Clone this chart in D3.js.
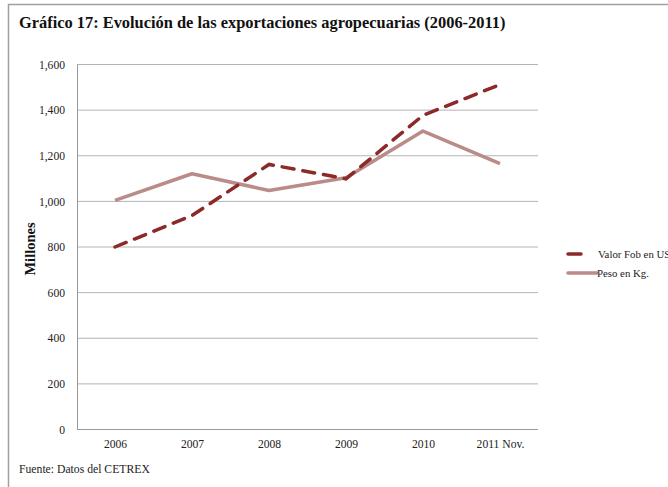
<!DOCTYPE html>
<html><head><meta charset="utf-8">
<script src="https://cdn.jsdelivr.net/npm/d3@7"></script>
<style>body{margin:0;background:#fff}svg{display:block}text{font-family:"Liberation Serif","DejaVu Serif",serif}</style>
</head><body><div id="c"></div>
<script>
const categories = ["2006","2007","2008","2009","2010","2011 Nov."];
const valorFob = [800, 938, 1162, 1099, 1377, 1512];
const pesoKg = [1004, 1121, 1048, 1104, 1308, 1165];
const yTicks = [0,200,400,600,800,1000,1200,1400,1600];
const seriesNames = ["Valor Fob en US$", "Peso en Kg."];

const W=668,H=487;
const svg=d3.select("#c").append("svg").attr("width",W).attr("height",H);
// outer frame
svg.append("path").attr("d","M8.5,"+H+"V4.5H"+W).attr("fill","none").attr("stroke","#a0a0a0").attr("stroke-width",1.5);

svg.append("text").attr("x",19).attr("y",28).attr("font-size",16.4).attr("font-weight","bold").attr("fill","#111")
  .text("Gráfico 17: Evolución de las exportaciones agropecuarias (2006-2011)");

const x=d3.scalePoint().domain(categories).range([76.5,538.5]).padding(0.5);
const y=d3.scaleLinear().domain([0,1600]).range([429.5,64.5]);

// gridlines
svg.append("g").selectAll("line").data(yTicks.filter(d=>d>0)).join("line")
  .attr("x1",77).attr("x2",538).attr("y1",d=>y(d)).attr("y2",d=>y(d))
  .attr("stroke","#b3b3b3").attr("stroke-width",1);

const ya=svg.append("g").attr("transform","translate(77,0)")
  .call(d3.axisLeft(y).tickValues(yTicks).tickSize(0).tickPadding(12).tickFormat(d3.format(",")));
ya.select(".domain").attr("stroke","#999");
ya.selectAll("text").attr("font-family","Liberation Serif").attr("font-size",11.6).attr("fill","#222");

const xa=svg.append("g").attr("transform","translate(0,429.5)")
  .call(d3.axisBottom(x).tickSize(0).tickPadding(10));
xa.select(".domain").attr("stroke","#999").attr("d","M77,0H538");
xa.selectAll("text").attr("font-family","Liberation Serif").attr("font-size",11.6).attr("fill","#222");

svg.append("text").attr("transform","translate(35,249) rotate(-90)").attr("text-anchor","middle")
  .attr("font-size",14.5).attr("font-weight","bold").attr("fill","#111").text("Millones");

const line=d3.line().x((d,i)=>x(categories[i])).y(d=>y(d));
svg.append("path").datum(pesoKg).attr("d",line).attr("fill","none").attr("stroke","#b98b89").attr("stroke-width",3.5).attr("stroke-linejoin","round");
svg.append("path").datum(valorFob).attr("d",line).attr("fill","none").attr("stroke","#8b2b29").attr("stroke-width",3.5)
  .attr("stroke-dasharray","12,9").attr("stroke-linecap","round");

// legend
const lg=svg.append("g");
lg.append("line").attr("x1",568).attr("x2",581).attr("y1",254).attr("y2",254).attr("stroke","#8b2b29").attr("stroke-width",3.5).attr("stroke-linecap","round");
lg.append("text").attr("x",598).attr("y",258).attr("font-size",10.8).attr("fill","#222").text(seriesNames[0]);
lg.append("line").attr("x1",568).attr("x2",597).attr("y1",273).attr("y2",273).attr("stroke","#b98b89").attr("stroke-width",3.5).attr("stroke-linecap","round");
lg.append("text").attr("x",597).attr("y",277).attr("font-size",10.8).attr("fill","#222").text(seriesNames[1]);

svg.append("text").attr("x",19).attr("y",473).attr("font-size",11.7).attr("fill","#222").text("Fuente: Datos del CETREX");
</script></body></html>
